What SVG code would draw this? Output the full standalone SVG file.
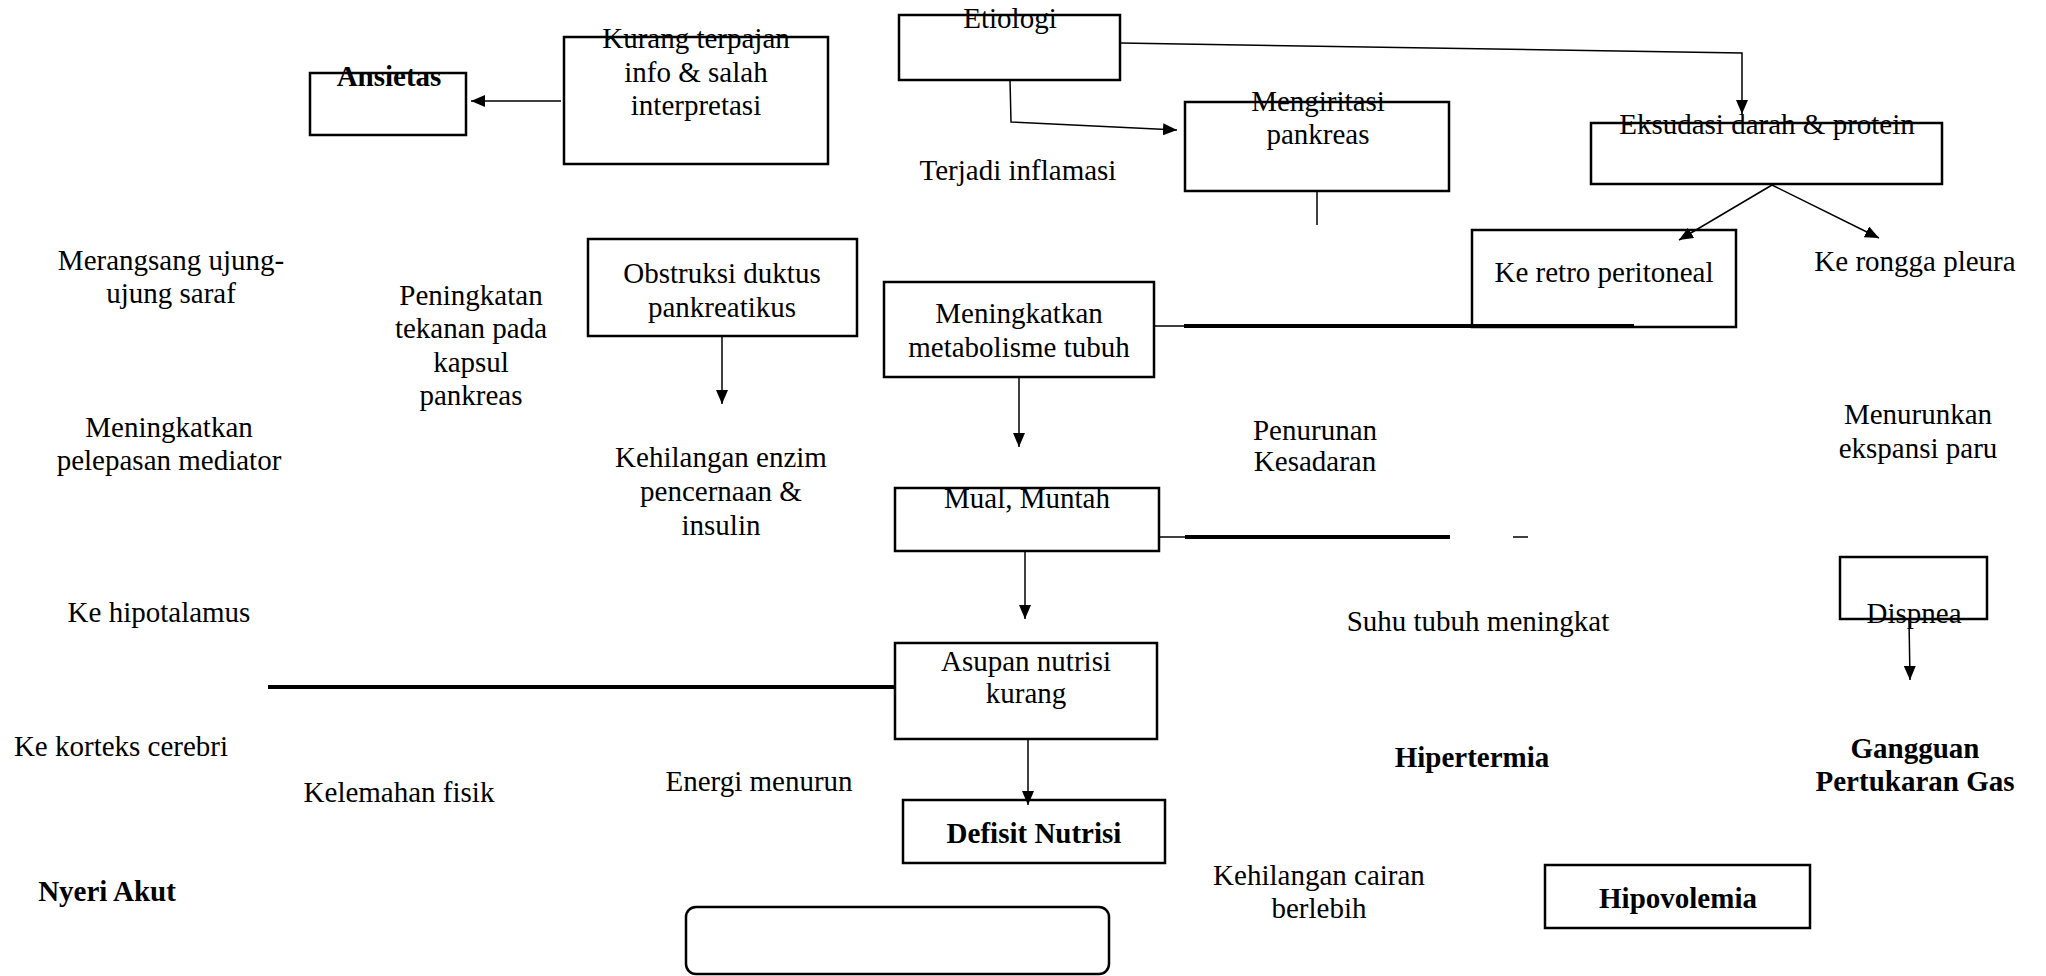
<svg xmlns="http://www.w3.org/2000/svg" width="2046" height="976" viewBox="0 0 2046 976" font-family="'Liberation Serif', 'DejaVu Serif', serif">
<style>
.box{fill:#fff;stroke:#000;stroke-width:2.5}
.t{font-family:'Liberation Serif','DejaVu Serif',serif;font-size:29px;font-style:normal;fill:#000;text-anchor:middle}
.b{font-weight:bold}
.c{stroke:#000;stroke-width:1.5;fill:none}
.thick{stroke:#000;stroke-width:4;fill:none}
</style>
<defs>
<marker id="ah" viewBox="0 0 14 12" refX="14" refY="6" markerWidth="14" markerHeight="12" orient="auto" markerUnits="userSpaceOnUse"><path d="M0,0 L14,6 L0,12 Z" fill="#000"/></marker>
</defs>
<rect width="2046" height="976" fill="#fff"/>

<g id="ansietas"><rect class="box" x="310" y="73" width="156" height="62"/><text class="t b" x="389" y="86">Ansietas</text></g>
<g id="kurang"><rect class="box" x="564" y="37" width="264" height="127"/><text class="t" x="696" y="48">Kurang terpajan</text><text class="t" x="696" y="82">info &amp; salah</text><text class="t" x="696" y="115">interpretasi</text></g>
<g id="etiologi"><rect class="box" x="899" y="15" width="221" height="65"/><text class="t" x="1010" y="28">Etiologi</text></g>
<g id="mengiritasi"><rect class="box" x="1185" y="102" width="264" height="89"/><text class="t" x="1318" y="111">Mengiritasi</text><text class="t" x="1318" y="144">pankreas</text></g>
<g id="eksudasi"><rect class="box" x="1591" y="123" width="351" height="61"/><text class="t" x="1767" y="134">Eksudasi darah &amp; protein</text></g>
<g id="retro"><rect class="box" x="1472" y="230" width="264" height="97"/><text class="t" x="1604" y="282">Ke retro peritoneal</text></g>
<g id="obstruksi"><rect class="box" x="588" y="239" width="269" height="97"/><text class="t" x="722" y="283">Obstruksi duktus</text><text class="t" x="722" y="317">pankreatikus</text></g>
<g id="metabolisme"><rect class="box" x="884" y="282" width="270" height="95"/><text class="t" x="1019" y="323">Meningkatkan</text><text class="t" x="1019" y="357">metabolisme tubuh</text></g>
<g id="mual"><rect class="box" x="895" y="488" width="264" height="63"/><text class="t" x="1027" y="508">Mual, Muntah</text></g>
<g id="dispnea"><rect class="box" x="1840" y="557" width="147" height="62"/><text class="t" x="1914" y="623">Dispnea</text></g>
<g id="asupan"><rect class="box" x="895" y="643" width="262" height="96"/><text class="t" x="1026" y="671">Asupan nutrisi</text><text class="t" x="1026" y="703">kurang</text></g>
<g id="defisit"><rect class="box" x="903" y="800" width="262" height="63"/><text class="t b" x="1034" y="843">Defisit Nutrisi</text></g>
<g id="hipovolemia"><rect class="box" x="1545" y="865" width="265" height="63"/><text class="t b" x="1678" y="908">Hipovolemia</text></g>
<g id="empty"><rect class="box" x="686" y="907" width="423" height="67" rx="10" ry="10"/></g>

<g id="labels">
<text class="t" x="1018" y="180">Terjadi inflamasi</text>
<text class="t" x="171" y="270">Merangsang ujung-</text>
<text class="t" x="171" y="303">ujung saraf</text>
<text class="t" x="471" y="305">Peningkatan</text>
<text class="t" x="471" y="338">tekanan pada</text>
<text class="t" x="471" y="372">kapsul</text>
<text class="t" x="471" y="405">pankreas</text>
<text class="t" x="1915" y="271">Ke rongga pleura</text>
<text class="t" x="169" y="437">Meningkatkan</text>
<text class="t" x="169" y="470">pelepasan mediator</text>
<text class="t" x="721" y="467">Kehilangan enzim</text>
<text class="t" x="721" y="501">pencernaan &amp;</text>
<text class="t" x="721" y="535">insulin</text>
<text class="t" x="1315" y="440">Penurunan</text>
<text class="t" x="1315" y="471">Kesadaran</text>
<text class="t" x="1918" y="424">Menurunkan</text>
<text class="t" x="1918" y="458">ekspansi paru</text>
<text class="t" x="159" y="622">Ke hipotalamus</text>
<text class="t" x="1478" y="631">Suhu tubuh meningkat</text>
<text class="t" x="121" y="756">Ke korteks cerebri</text>
<text class="t" x="399" y="802">Kelemahan fisik</text>
<text class="t" x="759" y="791">Energi menurun</text>
<text class="t b" x="1472" y="767">Hipertermia</text>
<text class="t b" x="1915" y="758">Gangguan</text>
<text class="t b" x="1915" y="791">Pertukaran Gas</text>
<text class="t b" x="107" y="901">Nyeri Akut</text>
<text class="t" x="1319" y="885">Kehilangan cairan</text>
<text class="t" x="1319" y="918">berlebih</text>
</g>

<g id="connectors">
<line class="c" x1="561" y1="101" x2="471" y2="101" marker-end="url(#ah)"/>
<polyline class="c" points="1010,80 1011,122 1177,130" marker-end="url(#ah)"/>
<polyline class="c" points="1120,43 1742,53 1742,114" marker-end="url(#ah)"/>
<line class="c" x1="1317" y1="191" x2="1317" y2="225"/>
<line class="c" x1="1772" y1="185" x2="1679" y2="240" marker-end="url(#ah)"/>
<line class="c" x1="1772" y1="185" x2="1879" y2="238" marker-end="url(#ah)"/>
<line class="c" x1="1154" y1="326" x2="1184" y2="326"/>
<line class="thick" x1="1184" y1="326" x2="1634" y2="326"/>
<line class="c" x1="722" y1="336" x2="722" y2="404" marker-end="url(#ah)"/>
<line class="c" x1="1019" y1="377" x2="1019" y2="447" marker-end="url(#ah)"/>
<line class="c" x1="1159" y1="537" x2="1185" y2="537"/>
<line class="thick" x1="1185" y1="537" x2="1450" y2="537"/>
<line class="c" x1="1513" y1="537" x2="1528" y2="537"/>
<line class="c" x1="1025" y1="551" x2="1025" y2="619" marker-end="url(#ah)"/>
<line class="thick" x1="268" y1="687" x2="895" y2="687"/>
<line class="c" x1="1028" y1="739" x2="1028" y2="805" marker-end="url(#ah)"/>
<line class="c" x1="1909" y1="619" x2="1910" y2="680" marker-end="url(#ah)"/>
</g>
</svg>
